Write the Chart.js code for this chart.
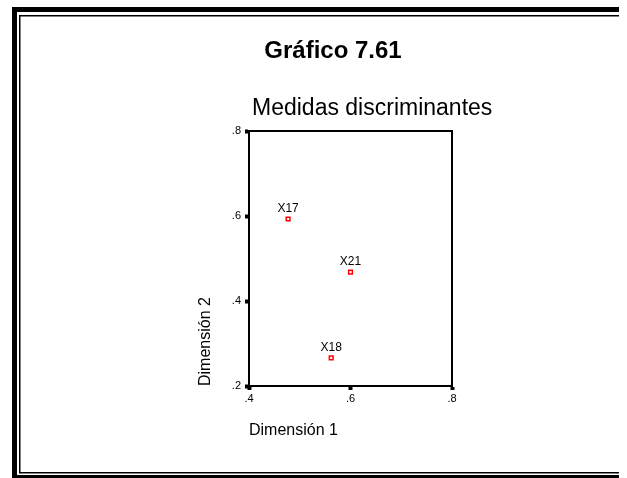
<!DOCTYPE html>
<html>
<head>
<meta charset="utf-8">
<script src="https://cdn.jsdelivr.net/npm/chart.js@4"></script>
<style>
  html, body { margin: 0; padding: 0; background: #fff; }
  #wrap { position: relative; width: 627px; height: 478px; }
</style>
</head>
<body>
<div id="wrap"><canvas id="plot" width="627" height="478"></canvas></div>
<script>
// Discriminant measures, two dimensions
const varNames = ['X17', 'X21', 'X18'];
const dim1 = [0.477, 0.600, 0.562];
const dim2 = [0.593, 0.468, 0.266];

const xTicks = [0.4, 0.6, 0.8];
const yTicks = [0.2, 0.4, 0.6, 0.8];

const FONT = "'Liberation Sans', Arial, sans-serif";

// drop the leading zero like ".4"
const shortNum = v => Number(v).toFixed(1).replace(/^0/, '');

// double frame around the page + headings
const frame = {
    id: 'frame',
    beforeDraw(chart) {
        const ctx = chart.ctx;
        ctx.save();
        ctx.fillStyle = '#fff';
        ctx.fillRect(0, 0, chart.width, chart.height);
        ctx.fillStyle = '#000';
        ctx.fillRect(12, 7, 5, 471);
        ctx.fillRect(12, 7, 607, 5);
        ctx.fillRect(12, 475, 607, 3);
        ctx.fillRect(19, 15, 1.5, 458);
        ctx.fillRect(19, 15, 600, 1.5);
        ctx.fillRect(19, 472, 600, 1.5);

        ctx.textBaseline = 'middle';
        ctx.textAlign = 'center';
        ctx.font = 'bold 24px ' + FONT;
        ctx.fillText('Gráfico 7.61', 333, 51);
        ctx.textAlign = 'left';
        ctx.font = '23px ' + FONT;
        ctx.fillText('Medidas discriminantes', 252, 109);
        ctx.restore();
    }
};

// plot box and variable labels over the points
const boxAndLabels = {
    id: 'boxAndLabels',
    afterDatasetsDraw(chart) {
        const ctx = chart.ctx;
        const a = chart.chartArea;
        ctx.save();
        ctx.strokeStyle = '#000';
        ctx.lineWidth = 2;
        ctx.strokeRect(a.left, a.top, a.right - a.left, a.bottom - a.top);
        ctx.fillStyle = '#000';
        ctx.font = '12px ' + FONT;
        ctx.textAlign = 'center';
        ctx.textBaseline = 'bottom';
        chart.getDatasetMeta(0).data.forEach((pt, i) => {
            ctx.fillText(varNames[i], pt.x, pt.y - 4);
        });
        ctx.restore();
    }
};

const points = dim1.map((x, i) => ({ x: x, y: dim2[i] }));

new Chart(document.getElementById('plot'), {
    type: 'scatter',
    data: {
        datasets: [{
            data: points,
            pointStyle: 'rect',
            pointRadius: 2.6,
            pointHoverRadius: 2.6,
            borderWidth: 1.5,
            borderColor: '#ff0000',
            backgroundColor: '#ffffff'
        }]
    },
    options: {
        responsive: false,
        animation: false,
        events: [],
        layout: { padding: { left: 196, right: 175, top: 131, bottom: 38 } },
        plugins: { legend: { display: false }, tooltip: { enabled: false } },
        scales: {
            x: {
                type: 'linear',
                min: xTicks[0],
                max: xTicks[xTicks.length - 1],
                afterBuildTicks: s => { s.ticks = xTicks.map(v => ({ value: v })); },
                afterFit: s => { s.height = 54; },
                border: { display: true, color: '#000', width: 2 },
                grid: { drawOnChartArea: false, drawTicks: true, tickLength: 4, tickWidth: 4, tickColor: '#000' },
                ticks: { color: '#000', padding: 2, maxRotation: 0, font: { family: FONT, size: 11 }, callback: shortNum },
                title: { display: true, text: 'Dimensión 1', align: 'start', color: '#000', padding: 0, font: { family: FONT, size: 16 } }
            },
            y: {
                type: 'linear',
                min: yTicks[0],
                max: yTicks[yTicks.length - 1],
                afterBuildTicks: s => { s.ticks = yTicks.map(v => ({ value: v })); },
                afterFit: s => { s.width = 53; },
                border: { display: true, color: '#000', width: 2 },
                grid: { drawOnChartArea: false, drawTicks: true, tickLength: 4, tickWidth: 4, tickColor: '#000' },
                ticks: { color: '#000', padding: 4, font: { family: FONT, size: 11 }, callback: shortNum },
                title: { display: true, text: 'Dimensión 2', align: 'start', color: '#000', padding: 0, font: { family: FONT, size: 16 } }
            }
        }
    },
    plugins: [frame, boxAndLabels]
});
</script>
</body>
</html>
